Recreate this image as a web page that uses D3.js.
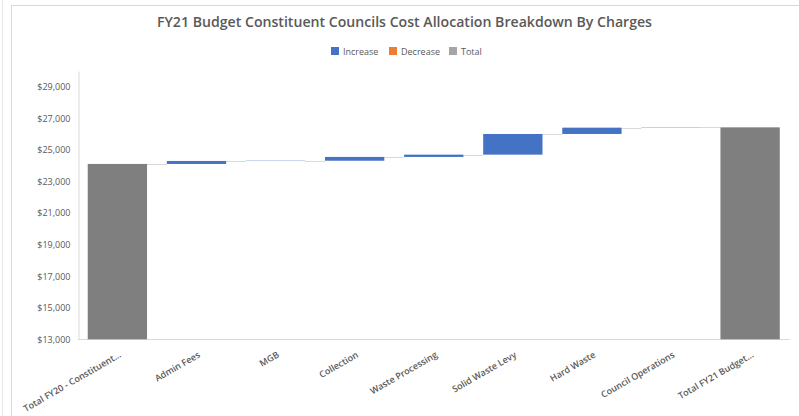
<!DOCTYPE html>
<html>
<head>
<meta charset="utf-8">
<script src="https://cdn.jsdelivr.net/npm/d3@7"></script>
<style>
  html, body { margin: 0; padding: 0; background: #fff; }
  svg { display: block; }
  text { font-family: "Open Sans", "Noto Sans", sans-serif; }
</style>
</head>
<body>
<svg id="chart" width="799" height="416"></svg>
<script>
// Budget lines, in order along the waterfall
const categories = [
  "Total FY20 - Constituent...",
  "Admin Fees",
  "MGB",
  "Collection",
  "Waste Processing",
  "Solid Waste Levy",
  "Hard Waste",
  "Council Operations",
  "Total FY21 Budget..."
];
// Change for each step ($); totals are given as their own amount (null = running total)
const amounts = [24110, 190, 15, 240, 145, 1310, 400, 20, null];
const kinds = ["total", "increase", "increase", "increase", "increase", "increase", "increase", "increase", "total"];

const legendLabels = ["Increase", "Decrease", "Total"];
const yTicks = [13000, 15000, 17000, 19000, 21000, 23000, 25000, 27000, 29000];
const yDomain = [13000, 30000];

const colors = { increase: "#4472C4", decrease: "#ED7D31", total: "#A5A5A5" };
const barColors = { increase: "#4472C4", decrease: "#ED7D31", total: "#7F7F7F" };

// Build waterfall steps
let running = 0;
const steps = categories.map((c, i) => {
  let start, end;
  if (kinds[i] === "total") {
    const v = amounts[i] == null ? running : amounts[i];
    start = yDomain[0]; end = v; running = v;
  } else {
    start = running; end = running + (kinds[i] === "decrease" ? -amounts[i] : amounts[i]);
    running = end;
  }
  return { cat: c, kind: kinds[i], start, end, level: running };
});

const svg = d3.select("#chart");

// Chart frame
svg.append("line").attr("x1", 2.5).attr("x2", 2.5).attr("y1", 0).attr("y2", 416)
  .attr("stroke", "#e6e6e6").attr("stroke-width", 1);
svg.append("rect").attr("x", 11.5).attr("y", 5.5).attr("width", 800).attr("height", 420)
  .attr("fill", "#fff").attr("stroke", "#d9d9d9").attr("stroke-width", 1);

// Title
svg.append("text")
  .attr("x", 404.5).attr("y", 27)
  .attr("text-anchor", "middle")
  .attr("font-size", 14.5).attr("font-weight", 600).attr("fill", "#595959")
  .attr("textLength", 495).attr("lengthAdjust", "spacingAndGlyphs")
  .text("FY21 Budget Constituent Councils Cost Allocation Breakdown By Charges");

// Legend
const legendX = [331, 389, 449];
const legend = svg.append("g");
legendLabels.forEach((l, i) => {
  const key = l.toLowerCase();
  legend.append("rect").attr("x", legendX[i]).attr("y", 47).attr("width", 8).attr("height", 8)
    .attr("fill", colors[key]);
  legend.append("text").attr("x", legendX[i] + 12).attr("y", 54.5)
    .attr("font-size", 9).attr("fill", "#595959").text(l);
});

// Scales
const x = d3.scaleBand().domain(categories).range([78, 789.5])
  .paddingInner(0.25).paddingOuter(0.123);
const y = d3.scaleLinear().domain(yDomain).range([339.3, 71]);

// Axes
const yAxis = d3.axisLeft(y).tickValues(yTicks).tickSize(0).tickPadding(8)
  .tickFormat(d => "$" + d3.format(",")(d));
const gy = svg.append("g").attr("transform", "translate(78.5,0)").call(yAxis);
gy.select(".domain").attr("stroke", "#d9d9d9");
gy.selectAll("text").attr("font-size", 9).attr("fill", "#595959")
  .attr("font-family", "Open Sans, sans-serif");

// Category axis line (drawn beneath the bars)
const xAxis = d3.axisBottom(x).tickSize(0).tickFormat("");
const gx = svg.append("g").attr("transform", "translate(0,339.5)").call(xAxis);
gx.select(".domain").attr("stroke", "#d9d9d9").attr("d", "M78,0H789.5");

// Connectors between bars
const conn = svg.append("g");
steps.slice(0, -1).forEach((s, i) => {
  const yy = Math.round(y(s.level)) + 0.5;
  conn.append("line")
    .attr("x1", x(s.cat) + x.bandwidth()).attr("x2", x(categories[i + 1]))
    .attr("y1", yy).attr("y2", yy)
    .attr("stroke", "#d9d9d9").attr("stroke-width", 1);
});

// Bars
svg.append("g").selectAll("rect").data(steps).join("rect")
  .attr("x", d => x(d.cat))
  .attr("width", x.bandwidth())
  .attr("y", d => y(Math.max(d.start, d.end)))
  .attr("height", d => Math.max(0.3, Math.abs(y(d.start) - y(d.end))))
  .attr("fill", d => barColors[d.kind]);

// Category labels
svg.append("g").selectAll("text").data(categories).join("text")
  .attr("transform", d => `translate(${x(d) + x.bandwidth() / 2 + 1},351) rotate(-30)`)
  .attr("text-anchor", "end")
  .attr("dy", "0.72em")
  .attr("font-size", 9).attr("font-weight", 600).attr("fill", "#595959")
  .text(d => d);
</script>
</body>
</html>
